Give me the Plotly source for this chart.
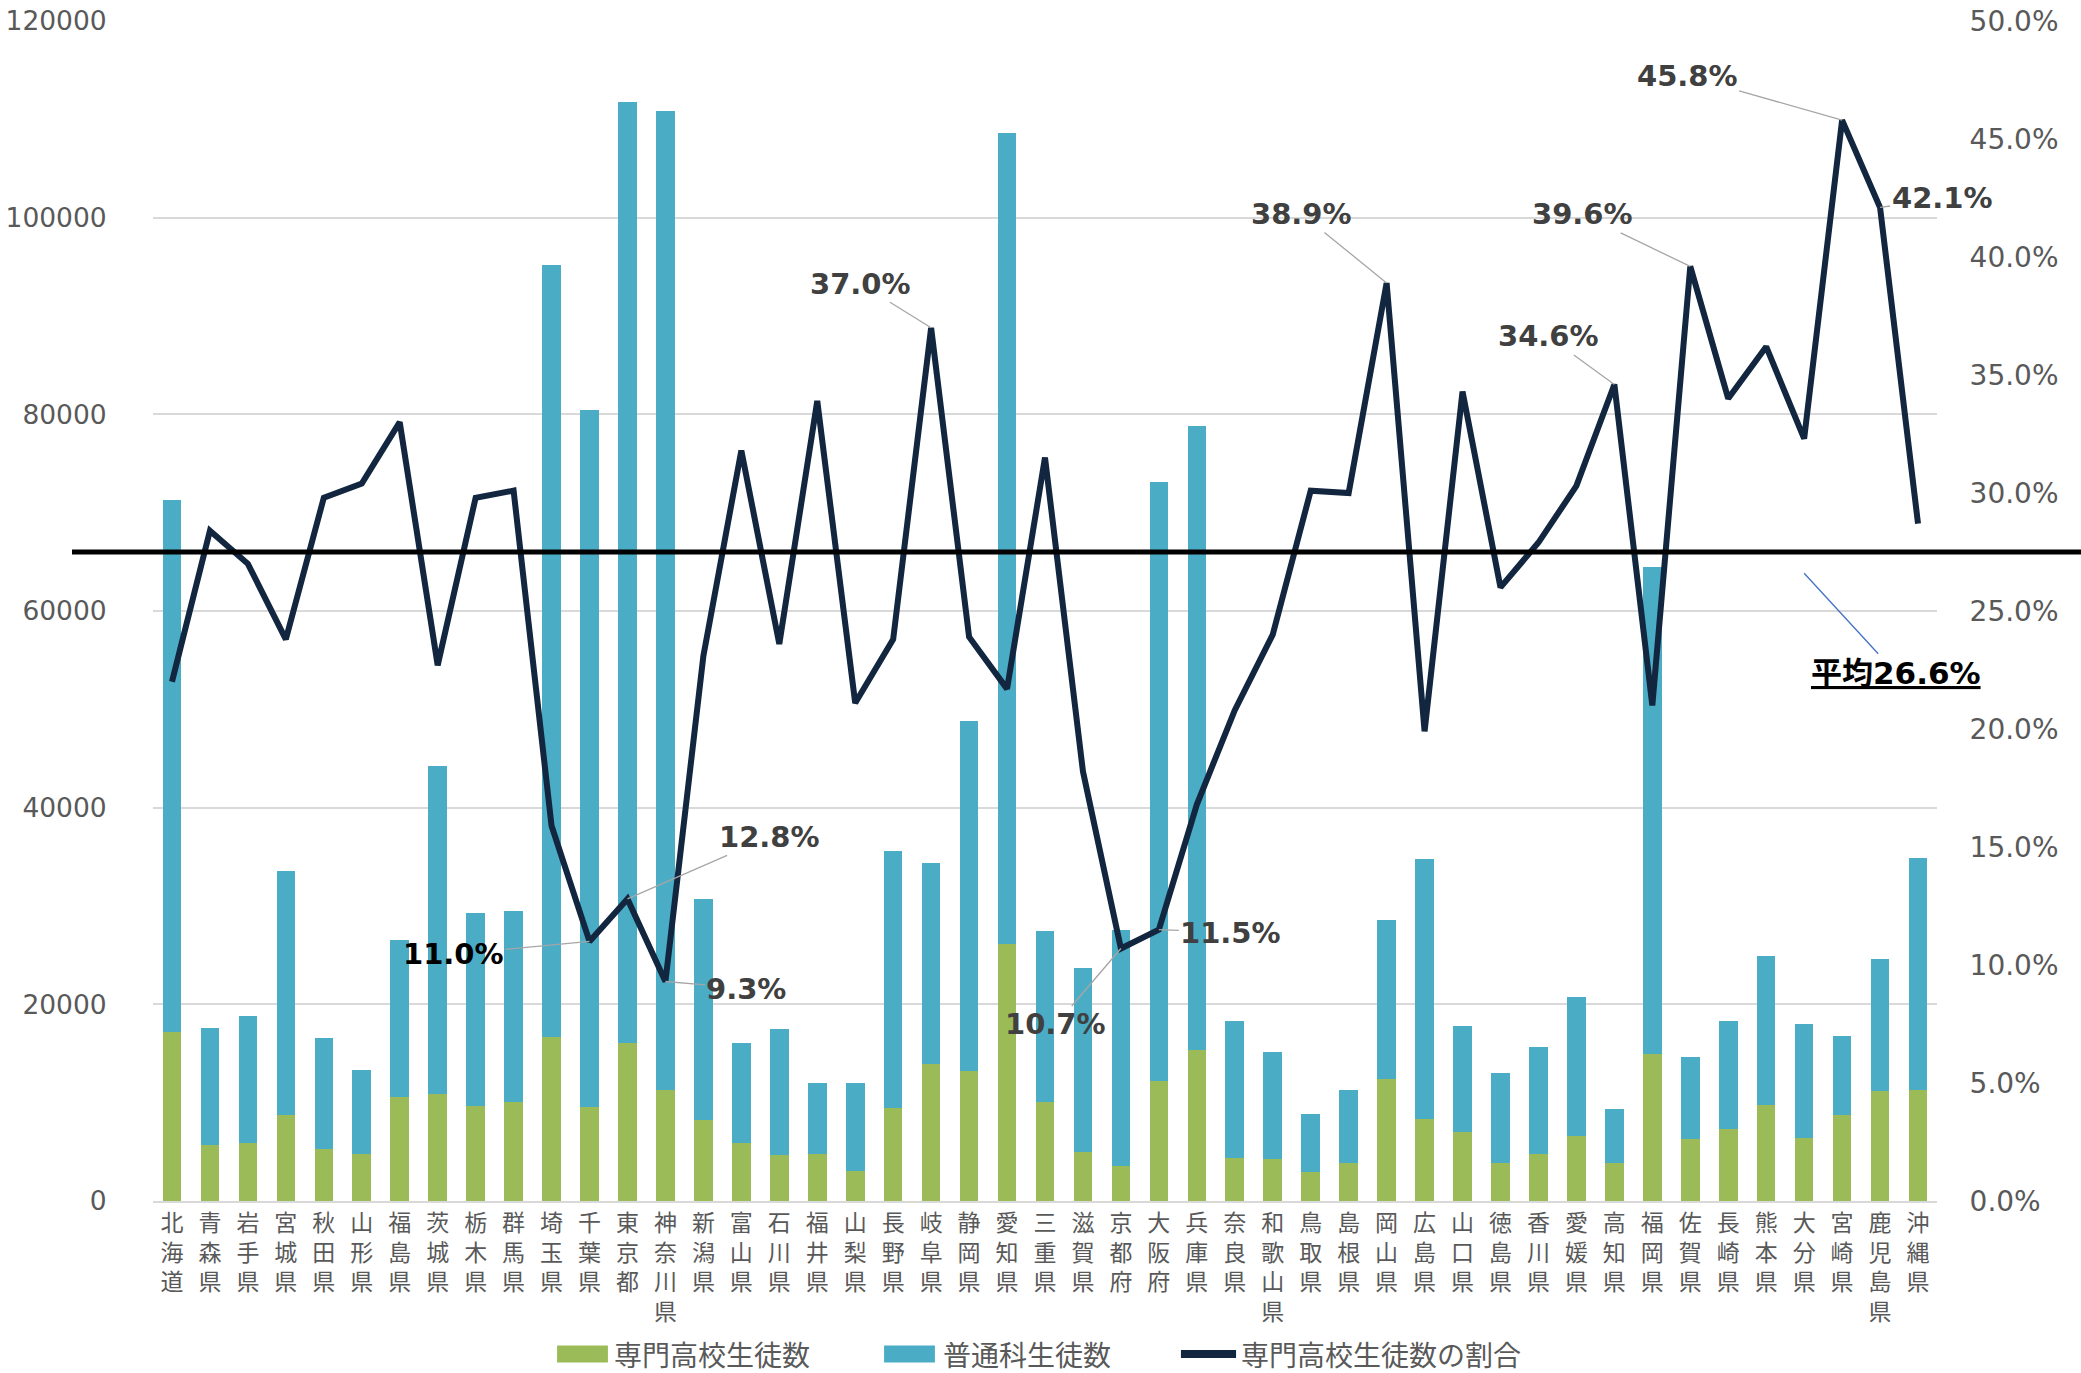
import plotly.graph_objects as go

prefectures = ["北海道","青森県","岩手県","宮城県","秋田県","山形県","福島県","茨城県","栃木県","群馬県",
               "埼玉県","千葉県","東京都","神奈川県","新潟県","富山県","石川県","福井県","山梨県","長野県",
               "岐阜県","静岡県","愛知県","三重県","滋賀県","京都府","大阪府","兵庫県","奈良県","和歌山県",
               "鳥取県","島根県","岡山県","広島県","山口県","徳島県","香川県","愛媛県","高知県","福岡県",
               "佐賀県","長崎県","熊本県","大分県","宮崎県","鹿児島県","沖縄県"]

senmon_students = [17200, 5700, 5850, 8700, 5300, 4800, 10550, 10900, 9700, 10050,
                   16700, 9600, 16050, 11250, 8250, 5850, 4700, 4800, 3100, 9500,
                   13900, 13200, 26100, 10050, 5000, 3550, 12200, 15350, 4350, 4250,
                   2950, 3900, 12400, 8300, 7000, 3900, 4800, 6600, 3900, 15000,
                   6350, 7350, 9750, 6400, 8750, 11200, 11300]

futsu_students = [54100, 11900, 12950, 24850, 11250, 8500, 16000, 33350, 19600, 19450,
                  78450, 70850, 95700, 99600, 22500, 10250, 12750, 7200, 8850, 26050,
                  20450, 35650, 82550, 17450, 18700, 24050, 60950, 63450, 14000, 10950,
                  5850, 7350, 16150, 26500, 10750, 9100, 10850, 14150, 5500, 49450,
                  8300, 10950, 15150, 11650, 8000, 13450, 23600]

senmon_ratio = [0.220, 0.284, 0.270, 0.238, 0.298, 0.304, 0.330, 0.227, 0.298, 0.301,
                0.159, 0.110, 0.128, 0.093, 0.231, 0.318, 0.236, 0.339, 0.211, 0.238,
                0.370, 0.239, 0.217, 0.315, 0.182, 0.107, 0.115, 0.168, 0.208, 0.240,
                0.301, 0.300, 0.389, 0.199, 0.343, 0.260, 0.279, 0.303, 0.346, 0.210,
                0.396, 0.340, 0.362, 0.323, 0.458, 0.421, 0.287]

series_names = ["専門高校生徒数", "普通科生徒数", "専門高校生徒数の割合"]

# labelled points: (prefecture, text, ax, ay, color)
labelled = [("千葉県", "11.0%", -136, 13, "#000000"),
            ("東京都", "12.8%", 142, -62, "#404040"),
            ("神奈川県", "9.3%", 81, 7, "#404040"),
            ("岐阜県", "37.0%", -71, -44, "#404040"),
            ("京都府", "10.7%", -65, 76, "#404040"),
            ("大阪府", "11.5%", 72, 3, "#404040"),
            ("岡山県", "38.9%", -85, -69, "#404040"),
            ("高知県", "34.6%", -66, -48, "#404040"),
            ("佐賀県", "39.6%", -108, -52, "#404040"),
            ("宮崎県", "45.8%", -155, -44, "#404040"),
            ("鹿児島県", "42.1%", 62, -9, "#404040")]

avg_line_value = 0.275
avg_label = "平均26.6%"
avg_label_x = "大分県"
avg_label_y = 0.266

tick_text = ["<br>".join(list(p)) for p in prefectures]

GREEN = "#9bbb59"
BLUE = "#4bacc6"
NAVY = "#12263f"
LEFT_TICK_FONT = dict(family="DejaVu Sans", size=26.5, color="#595959")
RIGHT_TICK_FONT = dict(family="DejaVu Sans", size=28, color="#595959")
LEGEND_FONT = dict(family="Noto Sans CJK JP", size=28, color="#595959")

fig = go.Figure()
fig.add_trace(go.Bar(x=prefectures, y=senmon_students, name=series_names[0],
                     marker=dict(color=GREEN, line=dict(width=0))))
fig.add_trace(go.Bar(x=prefectures, y=futsu_students, name=series_names[1],
                     marker=dict(color=BLUE, line=dict(width=0))))
fig.add_trace(go.Scatter(x=prefectures, y=senmon_ratio, name=series_names[2],
                         mode="lines", yaxis="y2",
                         line=dict(color=NAVY, width=6)))

annotations = []
for pref, txt, ax, ay, col in labelled:
    val = senmon_ratio[prefectures.index(pref)]
    annotations.append(dict(x=pref, y=val, xref="x", yref="y2", text="<b>" + txt + "</b>",
                            showarrow=True, arrowhead=0, arrowwidth=1.3, arrowcolor="#a6a6a6",
                            ax=ax, ay=ay, standoff=0,
                            font=dict(family="DejaVu Sans", size=29, color=col)))
annotations.append(dict(x=avg_label_x, y=avg_label_y, xref="x", yref="y2",
                        text="<b><u>" + avg_label + "</u></b>",
                        showarrow=True, arrowhead=0, arrowwidth=1.3, arrowcolor="#4472c4",
                        ax=92, ay=100,
                        font=dict(family="DejaVu Sans, Noto Sans CJK JP", size=31, color="#000000")))

# custom legend (wide swatches like the original)
LEG_Y = -0.1297
legend_items = [(0.2265, 0.2550, 0.2577, "rect", GREEN),
                (0.4098, 0.4383, 0.4423, "rect", BLUE),
                (0.5762, 0.6071, 0.6093, "line", NAVY)]
shapes = [dict(type="line", xref="paper", x0=-0.0454, x1=1.09, yref="y2",
               y0=avg_line_value, y1=avg_line_value, layer="above",
               line=dict(color="#000000", width=5))]
for (x0, x1, xt, kind, col), nm in zip(legend_items, series_names):
    if kind == "rect":
        shapes.append(dict(type="rect", xref="paper", yref="paper", x0=x0, x1=x1,
                           y0=LEG_Y - 0.0072, y1=LEG_Y + 0.0072,
                           fillcolor=col, line=dict(width=0)))
    else:
        shapes.append(dict(type="line", xref="paper", yref="paper", x0=x0, x1=x1,
                           y0=LEG_Y, y1=LEG_Y, line=dict(color=col, width=8)))
    annotations.append(dict(x=xt, y=LEG_Y, xref="paper", yref="paper", text=nm,
                            showarrow=False, xanchor="left", yanchor="middle", borderpad=0,
                            font=LEGEND_FONT))

fig.update_layout(
    width=2081, height=1373,
    barmode="stack", bargap=0.51,
    paper_bgcolor="white", plot_bgcolor="white",
    margin=dict(l=153, r=144, t=21, b=172, autoexpand=False),
    showlegend=False,
    xaxis=dict(type="category", tickvals=prefectures, ticktext=tick_text, tickangle=0,
               range=[-0.5, len(prefectures) - 0.5], autorange=False,
               tickfont=dict(family="Noto Sans CJK JP", size=23, color="#595959"),
               showline=True, linecolor="#d9d9d9", linewidth=2, showgrid=False,
               ticks="", automargin=False),
    yaxis=dict(range=[0, 120000], autorange=False, dtick=20000, tickformat="d",
               tickfont=LEFT_TICK_FONT, showgrid=True, gridcolor="#d9d9d9", gridwidth=1.5,
               zeroline=False, ticks="outside", ticklen=40, tickcolor="rgba(0,0,0,0)",
               automargin=False, ticklabeloverflow="allow"),
    yaxis2=dict(range=[0, 0.5], autorange=False, dtick=0.05, tickformat=".1%",
                overlaying="y", side="right",
                tickfont=RIGHT_TICK_FONT, showgrid=False, zeroline=False,
                ticks="outside", ticklen=26, tickcolor="rgba(0,0,0,0)",
                automargin=False, ticklabeloverflow="allow"),
    annotations=annotations,
    shapes=shapes,
)

# remove the default 8px page margin so the figure fills the window exactly
fig.write_html("out.html", config={"displayModeBar": False},
               post_script="document.body.style.margin='0px';")
